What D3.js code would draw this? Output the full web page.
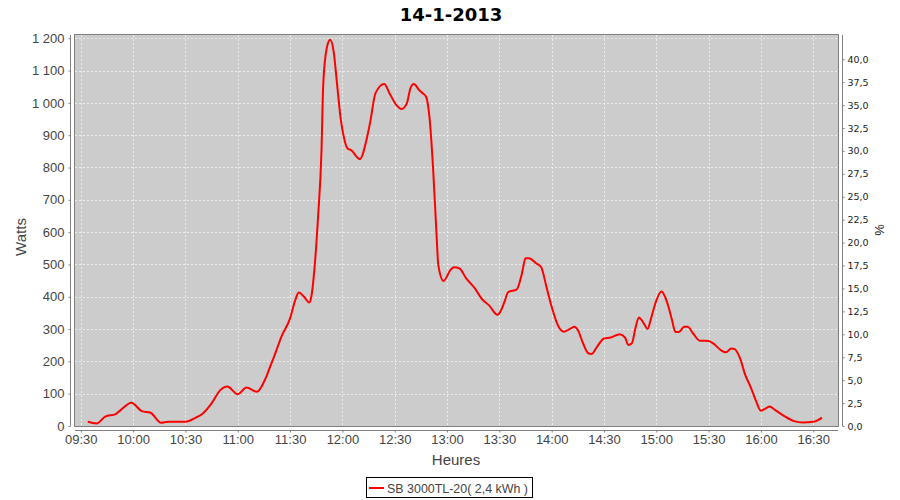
<!DOCTYPE html>
<html>
<head>
<meta charset="utf-8">
<script src="https://cdn.jsdelivr.net/npm/d3@7"></script>
<style>
  html, body { margin: 0; padding: 0; background: #fff; }
  svg { display: block; }
</style>
</head>
<body>
<svg id="chart" width="900" height="500"></svg>
<script>
// ---- data ----
const title = "14-1-2013";
const seriesName = "SB 3000TL-20( 2,4 kWh )";
const times = ["09:34","09:39","09:44","09:50","09:53","09:59","10:05","10:10","10:16","10:20",
  "10:30","10:36","10:40","10:45","10:50","10:54","11:00","11:05","11:11","11:16",
  "11:19","11:21","11:25","11:30","11:33","11:35","11:38","11:41","11:42","11:44",
  "11:46","11:48","11:49","11:51","11:53","11:55","11:57","11:59","12:01","12:03",
  "12:05","12:10","12:14","12:16","12:19","12:24","12:27","12:31","12:34","12:37",
  "12:39","12:41","12:44","12:46","12:48","12:50","12:52","12:54","12:55","12:58",
  "13:02","13:04","13:07","13:11","13:16","13:20","13:24","13:29","13:30","13:33",
  "13:35","13:40","13:43","13:45","13:47","13:51","13:54","13:57","14:00","14:04",
  "14:07","14:11","14:13","14:15","14:18","14:21","14:23","14:26","14:30","14:34",
  "14:39","14:42","14:44","14:46","14:48","14:50","14:53","14:55","14:57","15:00",
  "15:03","15:05","15:07","15:09","15:11","15:13","15:16","15:18","15:21","15:25",
  "15:30","15:33","15:37","15:40","15:43","15:45","15:48","15:51","15:54","15:57",
  "16:00","16:02","16:05","16:08","16:13","16:19","16:24","16:30","16:33","16:35"];
const watts = [13,8,29,37,50,72,46,41,10,13,
  13,26,39,70,111,122,98,119,106,148,
  190,217,276,333,390,413,400,382,395,488,
  643,849,1055,1169,1195,1158,1055,952,890,859,
  854,826,890,942,1030,1058,1030,993,981,999,
  1045,1058,1040,1030,1019,952,798,591,498,449,
  483,491,488,457,426,393,374,344,349,385,
  414,423,473,519,519,504,491,431,369,307,
  292,302,307,297,256,225,223,245,271,274,
  284,274,251,256,302,336,316,300,333,388,
  416,400,369,328,291,291,307,307,287,264,
  263,254,235,228,240,238,210,158,122,80,
  47,52,60,50,32,15,11,13,19,26];
const xTickLabels = ["09:30","10:00","10:30","11:00","11:30","12:00","12:30","13:00","13:30","14:00","14:30","15:00","15:30","16:00","16:30"];
const leftTicks = [0,100,200,300,400,500,600,700,800,900,1000,1100,1200];
const rightTicks = [0,2.5,5,7.5,10,12.5,15,17.5,20,22.5,25,27.5,30,32.5,35,37.5,40];

// ---- layout ----
const svg = d3.select("#chart");
const plot = {left: 75, top: 35, right: 838, bottom: 426};
const parse = d3.timeParse("%H:%M:%S");
const parseHM = d3.timeParse("%H:%M");

const x = d3.scaleTime()
  .domain([parse("09:26:40"), parse("16:44:12")])
  .range([plot.left, plot.right]);
const y = d3.scaleLinear().domain([0, 1210]).range([plot.bottom, plot.top]);
const yR = d3.scaleLinear().domain([0, 42.64]).range([plot.bottom, plot.top]);

const data = times.map((t, i) => ({t: parseHM(t), v: watts[i]}));
const xTicks = xTickLabels.map(parseHM);

// title
svg.append("text").attr("x", 451).attr("y", 20.5).attr("text-anchor", "middle")
  .attr("font-family", "DejaVu Sans").attr("font-weight", "bold").attr("font-size", 18)
  .attr("fill", "#000").text(title);

// plot background
svg.append("rect").attr("x", plot.left).attr("y", plot.top)
  .attr("width", plot.right - plot.left).attr("height", plot.bottom - plot.top)
  .attr("fill", "#cccccc");

// gridlines
const grid = svg.append("g").attr("stroke", "#f4f4f4").attr("stroke-width", 0.8)
  .attr("stroke-dasharray", "2,2");
grid.selectAll("line.v").data(xTicks).enter().append("line")
  .attr("x1", d => Math.round(x(d)) + 0.5).attr("x2", d => Math.round(x(d)) + 0.5)
  .attr("y1", plot.top).attr("y2", plot.bottom);
grid.selectAll("line.h").data(leftTicks).enter().append("line")
  .attr("x1", plot.left).attr("x2", plot.right)
  .attr("y1", d => Math.round(y(d)) + 0.5).attr("y2", d => Math.round(y(d)) + 0.5);

// plot outline
svg.append("rect").attr("x", plot.left - 0.5).attr("y", plot.top - 0.5)
  .attr("width", plot.right - plot.left + 1).attr("height", plot.bottom - plot.top + 1)
  .attr("fill", "none").attr("stroke", "#808080");

// clip + line
svg.append("clipPath").attr("id", "clip").append("rect")
  .attr("x", plot.left).attr("y", plot.top)
  .attr("width", plot.right - plot.left).attr("height", plot.bottom - plot.top);
const line = d3.line().x(d => x(d.t)).y(d => y(d.v)).curve(d3.curveMonotoneX);
svg.append("path").datum(data).attr("clip-path", "url(#clip)")
  .attr("fill", "none").attr("stroke", "#ff0000").attr("stroke-width", 2)
  .attr("stroke-linejoin", "round").attr("d", line);

// axes
const axisColor = "#808080";
function styleAxis(g, fontFamily, fontSize, color) {
  g.select(".domain").attr("stroke", axisColor);
  g.selectAll(".tick line").attr("stroke", axisColor);
  g.selectAll(".tick text").attr("font-family", fontFamily).attr("font-size", fontSize).attr("fill", color);
}
const leftFmt = d => d >= 1000 ? d3.format(",")(d).replace(",", " ") : String(d);
const gL = svg.append("g").attr("transform", `translate(${plot.left - 4.5},0)`)
  .call(d3.axisLeft(y).tickValues(leftTicks).tickFormat(leftFmt).tickSizeInner(2).tickSizeOuter(0).tickPadding(4));
styleAxis(gL, "Liberation Sans", 13, "#444");
gL.select(".domain").attr("d", `M0,${plot.top}V${plot.bottom}`);

const gB = svg.append("g").attr("transform", `translate(0,${plot.bottom + 4.5})`)
  .call(d3.axisBottom(x).tickValues(xTicks).tickFormat(d3.timeFormat("%H:%M")).tickSizeInner(2).tickSizeOuter(0).tickPadding(2));
styleAxis(gB, "Liberation Sans", 13, "#444");
gB.select(".domain").attr("d", `M${plot.left},0H${plot.right}`);

const gR = svg.append("g").attr("transform", `translate(${plot.right + 4.5},0)`)
  .call(d3.axisRight(yR).tickValues(rightTicks).tickFormat(d => d.toFixed(1).replace(".", ",")).tickSizeInner(2).tickSizeOuter(0).tickPadding(3));
styleAxis(gR, "DejaVu Sans", 9.5, "#222");
gR.select(".domain").attr("d", `M0,${plot.top}V${plot.bottom}`);

// axis titles
svg.append("text").attr("transform", "translate(26,237) rotate(-90)").attr("text-anchor", "middle")
  .attr("font-family", "Liberation Sans").attr("font-size", 15).attr("fill", "#444").text("Watts");
svg.append("text").attr("x", 456).attr("y", 465).attr("text-anchor", "middle")
  .attr("font-family", "Liberation Sans").attr("font-size", 15).attr("fill", "#444").text("Heures");
svg.append("text").attr("transform", "translate(884,230) rotate(-90)").attr("text-anchor", "middle")
  .attr("font-family", "Liberation Sans").attr("font-size", 13).attr("fill", "#222").text("%");

// legend
const lg = svg.append("g");
lg.append("rect").attr("x", 366.5).attr("y", 477.5).attr("width", 166).attr("height", 20)
  .attr("fill", "#fff").attr("stroke", "#000");
lg.append("line").attr("x1", 369).attr("x2", 384).attr("y1", 488).attr("y2", 488)
  .attr("stroke", "#ff0000").attr("stroke-width", 2);
lg.append("text").attr("x", 387).attr("y", 492.5).attr("font-family", "Liberation Sans")
  .attr("font-size", 12.5).attr("textLength", 141).attr("lengthAdjust", "spacingAndGlyphs")
  .attr("fill", "#444").text(seriesName);
</script>
</body>
</html>
